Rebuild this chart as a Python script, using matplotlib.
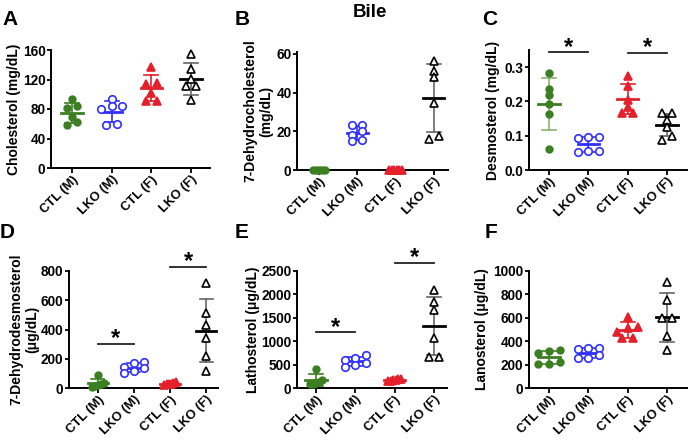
import numpy as np
import matplotlib
matplotlib.use('Agg')
import matplotlib.pyplot as plt

plt.rcParams['font.family'] = ['Liberation Sans', 'DejaVu Sans']
plt.rcParams['font.weight'] = 'bold'
plt.rcParams['axes.labelweight'] = 'bold'

W, H = 690, 441
fig = plt.figure(figsize=(W / 100, H / 100), dpi=100)
fig.patch.set_facecolor('white')

# ─── Data ────────────────────────────────────────────────────────────
groups = ['CTL (M)', 'LKO (M)', 'CTL (F)', 'LKO (F)']

chol_vals = [[93.7, 84.3, 82.0, 69.0, 61.7, 58.6],
             [93.3, 84.3, 83.4, 80.2, 59.9, 58.1],
             [137.5, 115.8, 113.6, 101.4, 91.5, 91.5],
             [154.6, 134.3, 120.8, 111.3, 111.3, 92.4]]
dhc_vals = [[0, 0, 0, 0, 0],
            [23.3, 23.5, 20.0, 18.0, 15.0, 15.5],
            [0, 0, 0, 0, 0, 0],
            [56.4, 51.0, 47.9, 34.5, 15.8, 17.8]]
desmo_vals = [[0.283, 0.236, 0.219, 0.192, 0.162, 0.062],
              [0.095, 0.092, 0.097, 0.055, 0.052, 0.056],
              [0.275, 0.244, 0.205, 0.185, 0.165, 0.167],
              [0.165, 0.165, 0.145, 0.125, 0.098, 0.088]]
dhd_vals = [[90, 35, 25, 20, 15, 10],
            [175, 170, 145, 135, 115, 100],
            [40, 35, 30, 28, 25, 20],
            [719, 515, 431, 345, 220, 113]]
latho_vals = [[410, 170, 130, 110, 95, 80],
              [700, 640, 590, 540, 500, 450],
              [200, 190, 180, 170, 160, 150],
              [2103, 1827, 1664, 1062, 659, 659]]
lano_vals = [[324, 318, 301, 206, 225, 206],
             [338, 344, 330, 282, 254, 254],
             [610, 520, 510, 480, 430, 425],
             [910, 755, 600, 600, 445, 324]]

# significance bars: (group i, group j, height)
desmo_sig = [(0, 1, 0.343), (2, 3, 0.342)]
dhd_sig = [(0, 1, 302), (2, 3, 828)]
latho_sig = [(0, 1, 1190), (2, 3, 2670)]

# ─── Styles ──────────────────────────────────────────────────────────
green = '#3b7f22'
blue = '#2f2fff'
red = '#e3202b'
black = '#000000'
styles = [
    dict(marker='o', color=green, mfc=green, ms=4.8, err=green),
    dict(marker='o', color=blue, mfc='white', ms=5.4, err=blue),
    dict(marker='^', color=red, mfc=red, ms=5.2, err=red),
    dict(marker='^', color=black, mfc='white', ms=5.4, err='#666666'),
]


def swarm_offsets(vals, px_per_unit, row_px=5.5, step=0.27, crowd_half=0.16):
    vals = np.asarray(vals, float)
    order = np.argsort(vals, kind='stable')
    offs = np.zeros(len(vals))
    rows = []
    for k in order:
        if rows and (vals[k] - vals[rows[-1][0]]) * px_per_unit < row_px:
            rows[-1].append(k)
        else:
            rows.append([k])
    for r in rows:
        n = len(r)
        if n > 1:
            sp = step if n <= 3 else 2 * crowd_half / (n - 1)
            for j, k in enumerate(r):
                offs[k] = (j - (n - 1) / 2) * sp
    return offs


def panel(box, xlim, data, ylim, yticks, ylabel, letter, lpad=2,
          ticklabels=None, sig=(), err_override=None):
    l, t, r, b = box
    ax = fig.add_axes([l / W, 1 - b / H, (r - l) / W, (b - t) / H])
    ax.set_xlim(*xlim)
    ax.set_ylim(*ylim)
    px_per_unit = (b - t) / (ylim[1] - ylim[0])
    for i, vals in enumerate(data):
        st = styles[i]
        ecol = st['err']
        if err_override and i in err_override:
            ecol = err_override[i]
        v = np.asarray(vals, float)
        m = v.mean()
        s = v.std(ddof=1)
        ax.plot([i, i], [m - s, m + s], color=ecol, lw=1.2, zorder=2)
        for y in (m - s, m + s):
            ax.plot([i - 0.18, i + 0.18], [y, y], color=ecol, lw=1.2, zorder=2)
        ax.plot([i - 0.27, i + 0.27], [m, m], color=st['color'], lw=2.0, zorder=2)
        xs = i + swarm_offsets(v, px_per_unit)
        ax.plot(xs, v, ls='none', marker=st['marker'], ms=st['ms'],
                mfc=st['mfc'], mec=st['color'], mew=1.2, zorder=3, clip_on=False)
    for i, j, y in sig:
        ax.plot([i, j], [y, y], color='#222222', lw=1.3, clip_on=False)
        ax.annotate('*', xy=((i + j) / 2, y), xytext=(0, -1), textcoords='offset points',
                    ha='center', va='baseline', fontsize=17, fontweight='bold',
                    annotation_clip=False)
    for side in ('top', 'right'):
        ax.spines[side].set_visible(False)
    for side in ('left', 'bottom'):
        ax.spines[side].set_linewidth(1.4)
    ax.set_yticks(yticks)
    ax.set_xticks(range(len(groups)))
    ax.set_xticklabels(groups, rotation=45, ha='right', rotation_mode='anchor')
    ax.tick_params(axis='x', direction='out', length=3.5, width=1.3, labelsize=9.3, pad=0.5)
    ax.tick_params(axis='y', direction='out', length=3, width=1.3, labelsize=9.8, pad=1)
    ax.set_ylabel(ylabel, fontsize=10, fontweight='bold', labelpad=lpad)
    if ticklabels is not None:
        ax.set_yticklabels(ticklabels)
    fig.text(letter[1] / W, 1 - letter[2] / H, letter[0], fontsize=15,
             fontweight='bold', ha='left', va='baseline')
    return ax


panel((51, 50, 210, 168), (-0.53, 3.48), chol_vals, (0, 160), [0, 40, 80, 120, 160],
      'Cholesterol (mg/dL)', ('A', 2, 25), lpad=1.5)
panel((297, 52, 448, 170), (-0.57, 3.37), dhc_vals, (0, 61), [0, 20, 40, 60],
      '7-Dehydrocholesterol\n(mg/dL)', ('B', 235, 25), lpad=2)
panel((529, 50, 687, 170), (-0.51, 3.51), desmo_vals, (0, 0.35), [0, 0.1, 0.2, 0.3],
      'Desmosterol (mg/dL)', ('C', 482, 25), lpad=3,
      ticklabels=['0.0', '0.1', '0.2', '0.3'], sig=desmo_sig,
      err_override={0: '#86b46c'})
panel((69, 271, 218, 388), (-0.8, 3.33), dhd_vals, (0, 800), [0, 200, 400, 600, 800],
      '7-Dehydrodesmosterol\n(μg/dL)', ('D', 0, 238), lpad=1, sig=dhd_sig)
panel((297, 271, 447, 388), (-0.48, 3.33), latho_vals, (0, 2500),
      [0, 500, 1000, 1500, 2000, 2500], 'Lathosterol (μg/dL)', ('E', 235, 238),
      lpad=1, sig=latho_sig)
panel((529, 271, 687, 388), (-0.51, 3.51), lano_vals, (0, 1000),
      [0, 200, 400, 600, 800, 1000], 'Lanosterol (μg/dL)', ('F', 485, 238), lpad=3)

fig.text(370 / W, 1 - 17 / H, 'Bile', ha='center', va='baseline',
         fontsize=13.5, fontweight='bold')

fig.savefig('out.png', dpi=100, facecolor='white')
